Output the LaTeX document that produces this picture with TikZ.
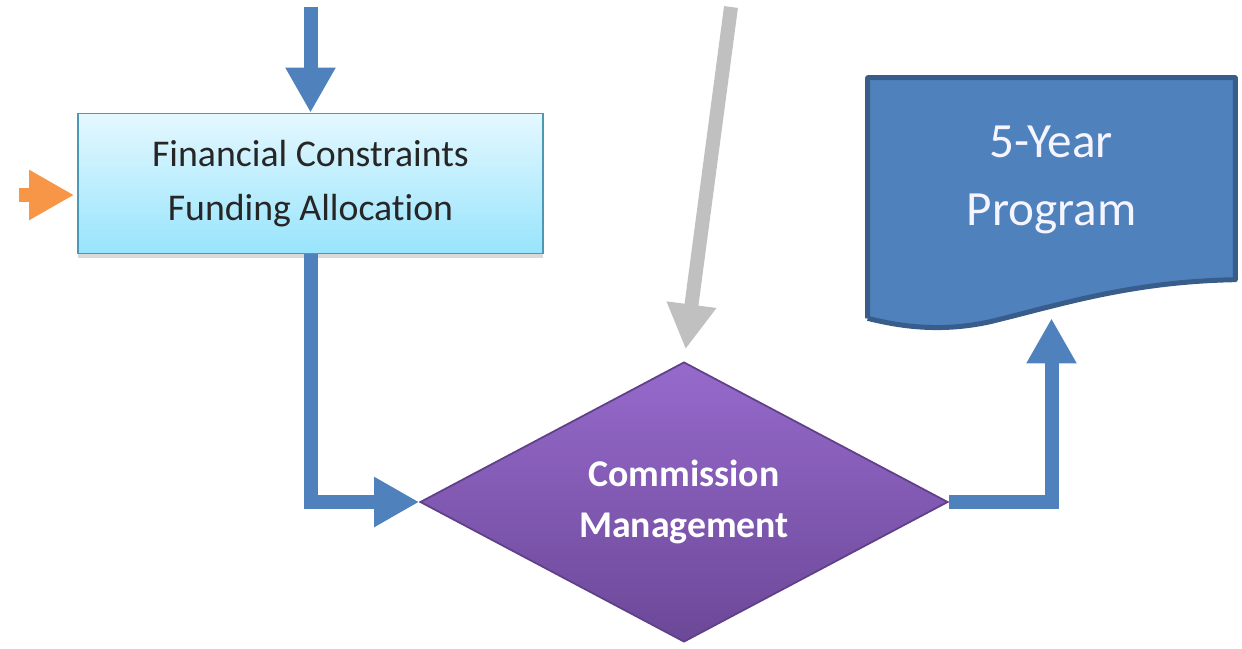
\documentclass[tikz,border=0pt]{standalone}
\usepackage{fontspec}
\setmainfont[Ligatures=NoCommon]{Carlito}
\usetikzlibrary{positioning}
\usetikzlibrary{arrows.meta,shapes.geometric,shadows}

\definecolor{flowblue}{RGB}{79,129,189}
\definecolor{docedge}{RGB}{56,93,138}
\definecolor{feedorange}{RGB}{247,150,70}
\definecolor{extgray}{RGB}{192,192,192}
\definecolor{boxtop}{RGB}{228,248,255}
\definecolor{boxbot}{RGB}{152,228,252}
\definecolor{boxedge}{RGB}{78,152,182}
\definecolor{dectop}{RGB}{150,106,204}
\definecolor{decbot}{RGB}{108,72,152}
\definecolor{decedge}{RGB}{96,64,136}

\begin{document}
\begin{tikzpicture}[x=0.02cm,y=-0.02cm,>={Triangle[length=0.9cm,width=0.94cm]},
  flow/.style={->,line width=0.28cm,draw=flowblue},
  feed/.style={->,line width=0.28cm,draw=feedorange,shorten >=0.06cm},
  ext/.style={->,line width=0.28cm,draw=extgray,shorten >=0.24cm},
  finbox/.style={rectangle,minimum width=9.3cm,minimum height=2.8cm,top color=boxtop,bottom color=boxbot,
    draw=boxedge,line width=1pt,align=center,text=black!85,font=\fontsize{21.5}{31}\selectfont,
    drop shadow={shadow xshift=0pt,shadow yshift=-0.1cm,opacity=0.3}},
  decision/.style={diamond,aspect=1.9,minimum width=10.56cm,minimum height=5.6cm,inner sep=0pt,
    top color=dectop,bottom color=decbot,draw=decedge,line width=1pt,align=center,text=white,
    font=\bfseries\fontsize{21.5}{29}\selectfont},
  docbox/.style={rectangle,minimum width=7.34cm,minimum height=4.8cm,inner sep=0pt},
  docshape/.style={fill=flowblue,draw=docedge,line width=0.1cm,line join=round},
  doctext/.style={align=center,text=white!96!blue,font=\fontsize{28}{38.5}\selectfont}]
  \useasboundingbox (0,0) rectangle (1242,649);

  \node (fin) [finbox] at (310.5,183.5) {Financial Constraints\\Funding Allocation};
  \node (comm) [decision] at (684,502) {Commission\\Management};
  \node (prog) [docbox] at (1051.5,198) {};
  \draw[docshape] (prog.south west) -- (prog.north west) -- (prog.north east) -- ++(0,202)
    .. controls +(-105,2) and +(70,-17) .. ++(-245,42)
    .. controls +(-50,11) and +(32,8) .. (prog.south west);
  \node (progtext) [doctext] at ([yshift=0.36cm]prog.center) {5-Year\\Program};

  \coordinate (fintop) at (310.5,7);
  \coordinate (orin) at (19,195);
  \coordinate (gtop) at (731,7);

\path (fintop) edge[flow] (fin)
      (orin) edge[feed] (orin -| fin.west)
      (gtop) edge[ext] (comm.north);
  \draw[flow] (fin.south) |- (comm.west);
  \draw[flow] (comm.east) -| (prog.south);
\end{tikzpicture}
\end{document}
